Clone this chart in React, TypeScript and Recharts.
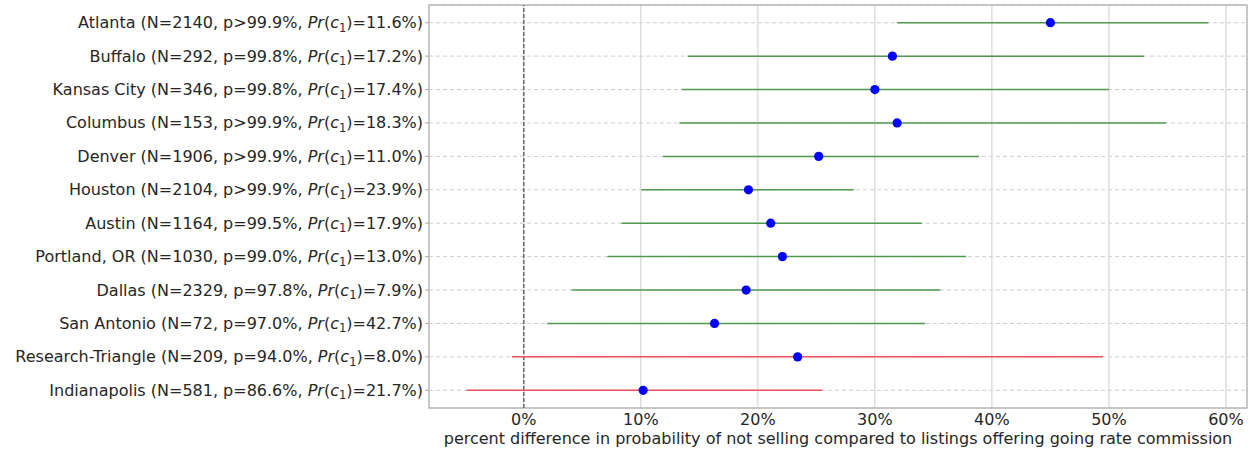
import React from "react";
import {
  ScatterChart,
  Scatter,
  XAxis,
  YAxis,
  CartesianGrid,
  ErrorBar,
  ReferenceLine,
  ReferenceArea,
} from "recharts";

// one row per metro, top to bottom
const cities = [
  "Atlanta",
  "Buffalo",
  "Kansas City",
  "Columbus",
  "Denver",
  "Houston",
  "Austin",
  "Portland, OR",
  "Dallas",
  "San Antonio",
  "Research-Triangle",
  "Indianapolis",
];
const sampleSizes = [2140, 292, 346, 153, 1906, 2104, 1164, 1030, 2329, 72, 209, 581];
const pLabels = [">99.9%", "=99.8%", "=99.8%", ">99.9%", ">99.9%", ">99.9%", "=99.5%", "=99.0%", "=97.8%", "=97.0%", "=94.0%", "=86.6%"];
const prC1 = ["11.6%", "17.2%", "17.4%", "18.3%", "11.0%", "23.9%", "17.9%", "13.0%", "7.9%", "42.7%", "8.0%", "21.7%"];

// percent difference: point estimate and interval bounds
const estimates = [45.0, 31.5, 30.0, 31.9, 25.2, 19.2, 21.1, 22.1, 19.0, 16.3, 23.4, 10.2];
const lowerBounds = [31.9, 14.0, 13.5, 13.3, 11.9, 10.05, 8.35, 7.15, 4.1, 2.0, -1.0, -4.9];
const upperBounds = [58.5, 53.0, 50.0, 54.9, 38.9, 28.2, 34.0, 37.8, 35.6, 34.3, 49.5, 25.5];

const xTicks = [0, 10, 20, 30, 40, 50, 60];
const xDomain = [-8.1, 61.8];
const yDomain = [-0.53, 11.53];

const rows = cities.map((city, i) => ({
  y: i,
  x: estimates[i],
  err: [estimates[i] - lowerBounds[i], upperBounds[i] - estimates[i]],
  significant: lowerBounds[i] > 0,
}));
const greenRows = rows.filter((r) => r.significant);
const redRows = rows.filter((r) => !r.significant);

const FONT = "DejaVu Sans, sans-serif";
const TEXT = "#262626";
const FS = 16;

const CityTick = (props: any) => {
  const { x, y, payload } = props;
  const i = payload.value;
  return (
    <text x={x} y={y} dy={5.5} textAnchor="end" fontSize={FS} fontFamily={FONT} fill={TEXT}>
      <tspan>{`${cities[i]} (N=${sampleSizes[i]}, p${pLabels[i]}, `}</tspan>
      <tspan fontStyle="italic">Pr</tspan>
      <tspan>(</tspan>
      <tspan fontStyle="italic">c</tspan>
      <tspan fontSize={11.5} dy={3.5}>1</tspan>
      <tspan dy={-3.5}>{`)=${prC1[i]})`}</tspan>
    </text>
  );
};

const Nothing = () => <g />;

const Dot = (props: any) => <circle cx={props.cx} cy={props.cy} r={4.6} fill="#0000ff" />;

export default function App() {
  return (
    <div style={{ position: "absolute", left: 0, top: 0, background: "#fff" }}>
      <ScatterChart
        width={1253}
        height={451}
        margin={{ top: 5, right: 6, bottom: 0, left: 0 }}
      >
        <CartesianGrid vertical={false} stroke="#cfcfcf" strokeDasharray="4 3" />
        <CartesianGrid horizontal={false} stroke="#d6d6d6" strokeWidth={1.2} />
        <XAxis
          type="number"
          dataKey="x"
          domain={xDomain}
          ticks={xTicks}
          allowDataOverflow
          tickFormatter={(v) => `${v}%`}
          height={43}
          axisLine={false}
          tickLine={false}
          tickSize={4}
          tickMargin={2}
          tick={{ fontSize: FS, fontFamily: FONT, fill: TEXT }}
          label={{
            value:
              "percent difference in probability of not selling compared to listings offering going rate commission",
            position: "insideBottom",
            offset: 7,
            fontSize: FS,
            fontFamily: FONT,
            fill: TEXT,
          }}
        />
        <YAxis
          type="number"
          dataKey="y"
          domain={yDomain}
          ticks={cities.map((_, i) => i)}
          reversed
          allowDataOverflow
          width={429}
          axisLine={false}
          tickLine={{ stroke: "#aaa" }}
          tickSize={4}
          tick={<CityTick />}
          interval={0}
        />
        <ReferenceArea
          x1={xDomain[0]}
          x2={xDomain[1]}
          y1={yDomain[0]}
          y2={yDomain[1]}
          fill="none"
          stroke="#b8b8b8"
          strokeWidth={1.3}
          ifOverflow="extendDomain"
        />
        <ReferenceLine x={0} stroke="#555" strokeDasharray="4 2" strokeWidth={1.3} />
        <Scatter data={greenRows} shape={<Nothing />} isAnimationActive={false}>
          <ErrorBar dataKey="err" direction="x" width={0} stroke="#4f9a4f" strokeWidth={1.5} isAnimationActive={false} />
        </Scatter>
        <Scatter data={redRows} shape={<Nothing />} isAnimationActive={false}>
          <ErrorBar dataKey="err" direction="x" width={0} stroke="#f0505c" strokeWidth={1.5} isAnimationActive={false} />
        </Scatter>
        <Scatter data={rows} shape={<Dot />} isAnimationActive={false} />
      </ScatterChart>
    </div>
  );
}
